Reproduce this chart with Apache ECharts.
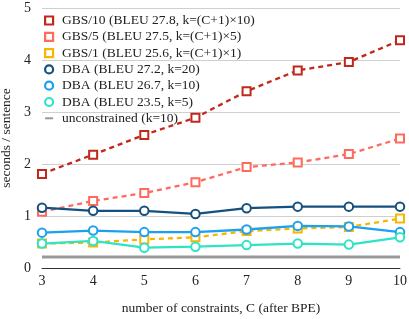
<!DOCTYPE html>
<html><head><meta charset="utf-8">
<script src="https://cdn.jsdelivr.net/npm/echarts@6/dist/echarts.min.js"></script>
<style>html,body{margin:0;padding:0;background:#fff}#c{width:409px;height:319px}</style>
</head><body><div id="c"></div>
<script>
const constraints = [3, 4, 5, 6, 7, 8, 9, 10];
const gbs10 = [1.81, 2.18, 2.56, 2.89, 3.40, 3.80, 3.96, 4.38];
const gbs5 = [1.08, 1.29, 1.44, 1.65, 1.94, 2.03, 2.19, 2.49];
const gbs1 = [0.47, 0.49, 0.55, 0.59, 0.71, 0.76, 0.79, 0.95];
const dba20 = [1.16, 1.10, 1.10, 1.04, 1.15, 1.18, 1.18, 1.18];
const dba10 = [0.68, 0.72, 0.69, 0.69, 0.74, 0.81, 0.80, 0.69];
const dba5 = [0.47, 0.52, 0.39, 0.41, 0.44, 0.47, 0.45, 0.59];
const unconstrained = [0.21, 0.21, 0.21, 0.21, 0.21, 0.21, 0.21, 0.21];
const names = ['GBS/10 (BLEU 27.8, k=(C+1)×10)', 'GBS/5 (BLEU 27.5, k=(C+1)×5)', 'GBS/1 (BLEU 25.6, k=(C+1)×1)',
  'DBA (BLEU 27.2, k=20)', 'DBA (BLEU 26.7, k=10)', 'DBA (BLEU 23.5, k=5)', 'unconstrained (k=10)'];
const yTicks = [0, 1, 2, 3, 4, 5];

const font = '"Liberation Serif", "DejaVu Serif", serif';
const pair = arr => constraints.map((c, i) => [c, arr[i]]);
function gbs(name, arr, color) {
  return { name, type: 'line', data: pair(arr), symbol: 'rect', symbolSize: 8,
    itemStyle: { color: '#fff', borderColor: color, borderWidth: 2 },
    lineStyle: { color, width: 2.3, type: [5, 4] }, z: 3 };
}
function dba(name, arr, color) {
  return { name, type: 'line', data: pair(arr), symbol: 'circle', symbolSize: 8.5,
    itemStyle: { color: '#fff', borderColor: color, borderWidth: 2 },
    lineStyle: { color, width: 2.3 }, z: 3 };
}
const chart = echarts.init(document.getElementById('c'), null, { renderer: 'canvas' });
chart.setOption({
  animation: false,
  backgroundColor: '#fff',
  textStyle: { fontFamily: font },
  grid: { left: 42, right: 9, top: 8, bottom: 51, containLabel: false, outerBoundsMode: 'none' },
  legend: {
    orient: 'vertical', left: 44, top: 13.5, itemGap: 2.3, itemWidth: 8, itemHeight: 8,
    padding: 0,
    textStyle: { fontFamily: font, fontSize: 13.5, lineHeight: 13, color: '#222', padding: [0, 0, 0, 4] },
    data: [
      { name: names[0], icon: 'rect', itemStyle: { color: '#fff', borderColor: '#c0281c', borderWidth: 2.2 } },
      { name: names[1], icon: 'rect', itemStyle: { color: '#fff', borderColor: '#ff6a5c', borderWidth: 2.2 } },
      { name: names[2], icon: 'rect', itemStyle: { color: '#fff', borderColor: '#f5b700', borderWidth: 2.2 } },
      { name: names[3], icon: 'circle', itemStyle: { color: '#fff', borderColor: '#15507f', borderWidth: 2.2 } },
      { name: names[4], icon: 'circle', itemStyle: { color: '#fff', borderColor: '#1ba1f2', borderWidth: 2.2 } },
      { name: names[5], icon: 'circle', itemStyle: { color: '#fff', borderColor: '#2ee3c6', borderWidth: 2.2 } },
      { name: names[6], icon: 'path://M0,0 L10,0 L10,2.5 L0,2.5 Z', itemStyle: { color: '#999' } }
    ]
  },
  xAxis: {
    type: 'value', min: 3, max: 10, interval: 1,
    name: 'number of constraints, C (after BPE)', nameLocation: 'middle', nameGap: 33,
    nameTextStyle: { fontFamily: font, fontSize: 13.5, color: '#222' },
    axisLine: { show: true, lineStyle: { color: '#333', width: 1 } },
    axisTick: { show: false },
    axisLabel: { fontFamily: font, fontSize: 14, color: '#222', margin: 6 },
    splitLine: { show: false }
  },
  yAxis: {
    type: 'value', min: 0, max: 5, interval: 1,
    name: 'seconds / sentence', nameLocation: 'middle', nameGap: 26, nameRotate: 90,
    nameTextStyle: { fontFamily: font, fontSize: 13.5, color: '#222' },
    axisLine: { show: false }, axisTick: { show: false },
    axisLabel: { fontFamily: font, fontSize: 14, color: '#222', margin: 11,
      formatter: v => yTicks.includes(v) ? String(v) : '' },
    splitLine: { show: true, lineStyle: { color: '#cfcfcf', width: 1 } }
  },
  series: [
    gbs(names[0], gbs10, '#c0281c'),
    gbs(names[1], gbs5, '#ff6a5c'),
    gbs(names[2], gbs1, '#f5b700'),
    dba(names[3], dba20, '#15507f'),
    dba(names[4], dba10, '#1ba1f2'),
    dba(names[5], dba5, '#2ee3c6'),
    { name: names[6], type: 'line', data: pair(unconstrained), symbol: 'none',
      itemStyle: { color: '#999' }, lineStyle: { color: '#999', width: 3 }, z: 2 }
  ]
});
</script></body></html>
